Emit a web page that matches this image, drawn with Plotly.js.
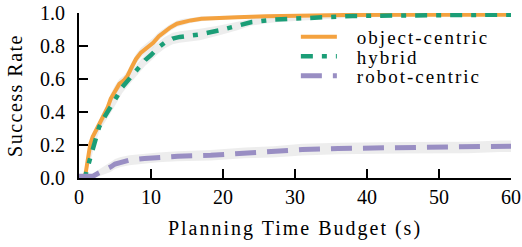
<!DOCTYPE html>
<html>
<head>
<meta charset="utf-8">
<script src="https://cdn.plot.ly/plotly-3.0.1.min.js"></script>
<style>
html,body{margin:0;padding:0;background:#fff;}
#chart{width:522px;height:247px;}
#chart .xtitle{letter-spacing:2px;}
#chart .ytitle{letter-spacing:1.5px;}
#chart .legendtext{letter-spacing:2px;}
</style>
</head>
<body>
<div id="chart"></div>
<script>
// Data
const objX = [0, 0.8, 1.0, 1.2, 1.4, 1.6, 1.9, 2.5, 3.0, 3.5, 4.0, 4.4, 5.0, 5.6, 6.2, 6.75, 7.3, 7.9, 8.6, 9.5, 10.3, 11.1, 12.0, 12.6, 13.6, 14.5, 15.5, 17, 19, 22, 26, 30, 37, 45, 60];
const objY = [0.0, 0.0, 0.05, 0.12, 0.16, 0.21, 0.25, 0.30, 0.34, 0.38, 0.43, 0.48, 0.53, 0.57, 0.59, 0.62, 0.67, 0.72, 0.76, 0.79, 0.82, 0.86, 0.89, 0.91, 0.935, 0.945, 0.955, 0.965, 0.97, 0.975, 0.98, 0.985, 0.988, 0.99, 0.99];
const objErr = [0, 0, 0.01, 0.015, 0.02, 0.02, 0.025, 0.025, 0.03, 0.03, 0.03, 0.03, 0.03, 0.03, 0.03, 0.03, 0.03, 0.03, 0.03, 0.03, 0.03, 0.025, 0.025, 0.02, 0.02, 0.02, 0.015, 0.015, 0.012, 0.01, 0.01, 0.008, 0.006, 0.005, 0.005];

const hybX = [0, 0.8, 1.1, 1.4, 1.8, 2.1, 2.8, 3.4, 4.0, 4.7, 5.35, 6.0, 6.75, 7.5, 8.4, 9.2, 10.0, 11.0, 11.9, 13.0, 14.0, 16.8, 19.5, 22, 24, 27, 30, 34, 38, 45, 52, 60];
const hybY = [0.0, 0.0, 0.05, 0.10, 0.16, 0.22, 0.31, 0.36, 0.40, 0.45, 0.50, 0.55, 0.59, 0.63, 0.675, 0.715, 0.745, 0.79, 0.82, 0.845, 0.855, 0.87, 0.895, 0.92, 0.945, 0.96, 0.967, 0.975, 0.982, 0.985, 0.988, 0.99];
const hybErr = [0, 0, 0.01, 0.02, 0.025, 0.03, 0.03, 0.035, 0.035, 0.035, 0.035, 0.035, 0.035, 0.035, 0.035, 0.035, 0.035, 0.035, 0.035, 0.035, 0.035, 0.035, 0.03, 0.025, 0.02, 0.018, 0.015, 0.012, 0.01, 0.008, 0.006, 0.005];

const robX = [0, 1, 2, 2.6, 3.5, 4.4, 5.0, 5.8, 7, 9.1, 11, 13.7, 18.3, 23, 27, 31, 36, 45, 54, 58.5, 60];
const robY = [0.01, 0.01, 0.012, 0.027, 0.045, 0.067, 0.085, 0.097, 0.108, 0.118, 0.125, 0.132, 0.138, 0.152, 0.158, 0.172, 0.179, 0.183, 0.185, 0.192, 0.193];
const robErr = [0.005, 0.008, 0.012, 0.02, 0.025, 0.03, 0.03, 0.03, 0.03, 0.03, 0.03, 0.03, 0.032, 0.033, 0.034, 0.035, 0.035, 0.035, 0.035, 0.035, 0.035];

const seriesNames = ['object-centric', 'hybrid', 'robot-centric'];
const xTicks = [0, 10, 20, 30, 40, 50, 60];
const yTicks = [0.0, 0.2, 0.4, 0.6, 0.8, 1.0];
const yTickText = ['0.0', '0.2', '0.4', '0.6', '0.8', '1.0'];

const bandColor = 'rgba(0,0,0,0.07)';
function band(xs, ys, es) {
  const lo = ys.map((v, i) => v - es[i]);
  const hi = ys.map((v, i) => v + es[i]);
  return [
    {x: xs, y: lo, mode: 'lines', line: {width: 0, color: 'rgba(0,0,0,0)'}, showlegend: false, hoverinfo: 'skip'},
    {x: xs, y: hi, mode: 'lines', line: {width: 0, color: 'rgba(0,0,0,0)'}, fill: 'tonexty', fillcolor: bandColor, showlegend: false, hoverinfo: 'skip'}
  ];
}

const traces = [].concat(
  band(objX, objY, objErr),
  band(hybX, hybY, hybErr),
  band(robX, robY, robErr),
  [
    {x: objX, y: objY, name: seriesNames[0], mode: 'lines', line: {color: '#f4a23f', width: 4}},
    {x: hybX, y: hybY, name: seriesNames[1], mode: 'lines', line: {color: '#1b9e77', width: 4.5, dash: '12px,9px,5px,9px'}},
    {x: robX, y: robY, name: seriesNames[2], mode: 'lines', line: {color: '#998ec3', width: 5, dash: '21px,11px'}}
  ]
);

const FAMILY = 'Liberation Serif';
const font = {family: FAMILY, size: 20, color: '#000'};
const legendFont = {family: FAMILY, size: 19, color: '#000'};
const layout = {
  width: 522, height: 247,
  margin: {l: 79, r: 11, t: 13, b: 69},
  paper_bgcolor: '#fff', plot_bgcolor: '#fff',
  font: font,
  showlegend: true,
  legend: {x: 0.502, y: 0.97, xanchor: 'left', yanchor: 'top', traceorder: 'normal', bgcolor: 'rgba(0,0,0,0)', font: legendFont, tracegroupgap: 0},
  xaxis: {
    range: [0, 60], tickvals: xTicks, ticks: 'inside', ticklen: 9, tickwidth: 1.6, tickcolor: '#000',
    showline: true, linecolor: '#000', linewidth: 2, showgrid: false, zeroline: false,
    tickfont: font, ticklabelstandoff: 0,
    title: {text: 'Planning Time Budget (s)', font: font, standoff: 14}
  },
  yaxis: {
    range: [0, 1], tickvals: yTicks, ticktext: yTickText, ticks: 'inside', ticklen: 9, tickwidth: 1.6, tickcolor: '#000',
    showline: true, linecolor: '#000', linewidth: 2, showgrid: false, zeroline: false,
    tickfont: font, ticklabelstandoff: 8,
    title: {text: 'Success Rate', font: font, standoff: 12}
  }
};
Plotly.newPlot('chart', traces, layout, {staticPlot: true, displayModeBar: false}).then(function (gd) {
  // matplotlib-like legend: tighter rows, longer handles, wider handle-text gap
  const re = /translate\(([-\d.]+)[ ,]+([-\d.]+)\)/;
  const items = gd.querySelectorAll('.legend .traces');
  if (!items.length) return;
  const m0 = (items[0].getAttribute('transform') || '').match(re);
  const y0 = m0 ? parseFloat(m0[2]) : 0;
  items.forEach(function (g, i) {
    const m = (g.getAttribute('transform') || '').match(re);
    if (m) g.setAttribute('transform', 'translate(' + m[1] + ',' + (y0 + i * 19.5) + ')');
  });
  gd.querySelectorAll('.legend .legendlines path').forEach(function (p) { p.setAttribute('d', 'M5,0h36'); });
  gd.querySelectorAll('.legend .legendtext').forEach(function (t) { t.setAttribute('x', '61'); });
  gd.querySelectorAll('.legend .scrollbox, .legend').forEach(function (s) { s.removeAttribute('clip-path'); });
});
</script>
</body>
</html>
